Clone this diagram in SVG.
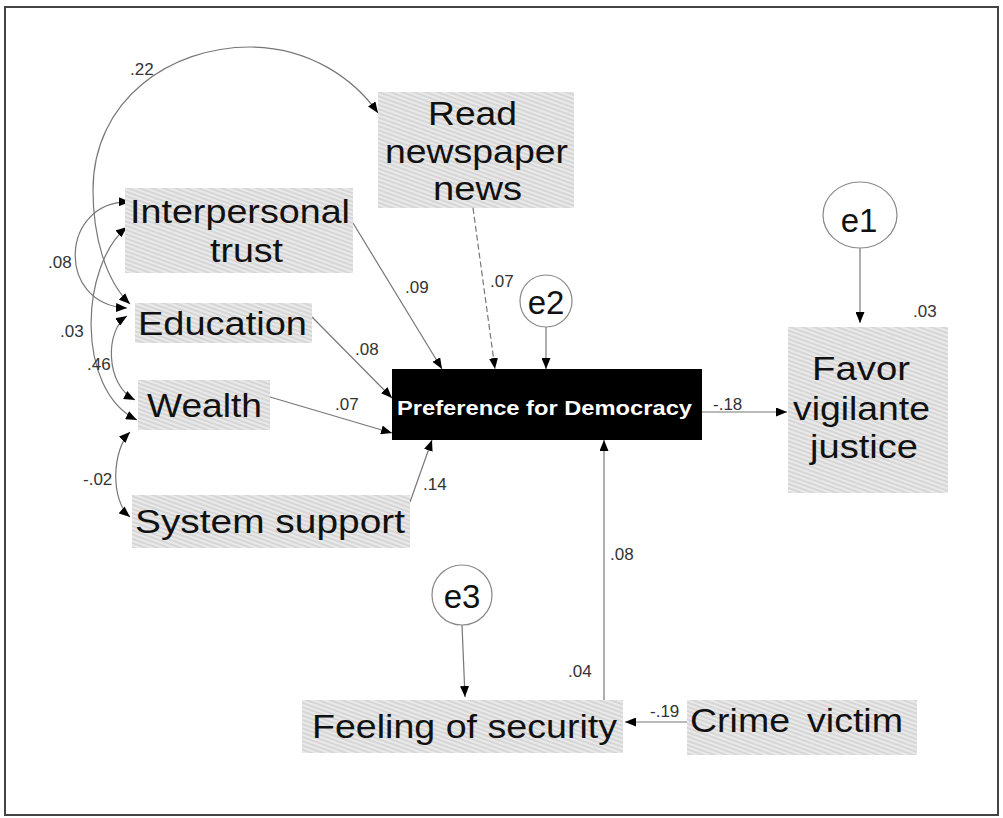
<svg xmlns="http://www.w3.org/2000/svg" width="1003" height="818" viewBox="0 0 1003 818">
<style>
.box{fill:url(#hatch);stroke:none}
.lbl{font-family:"Liberation Sans",Arial,sans-serif;font-size:33px;fill:#111}
.num{font-family:"Liberation Sans",Arial,sans-serif;font-size:17px;fill:#333}
.err{fill:#fff;stroke:#888;stroke-width:1.2}
.con{fill:none;stroke:#777;stroke-width:1.2}
.arr{marker-end:url(#ah)}
.both{marker-start:url(#ah);marker-end:url(#ah)}
</style>
<defs>
<pattern id="hatch" patternUnits="userSpaceOnUse" width="4" height="4" patternTransform="rotate(20)">
<rect width="4" height="4" fill="#e9e9e9"/>
<line x1="0" y1="1" x2="4" y2="1" stroke="#d0d0d0" stroke-width="1.5"/>
</pattern>
<marker id="ah" markerUnits="userSpaceOnUse" markerWidth="11" markerHeight="9" refX="11" refY="4.5" orient="auto-start-reverse">
<path d="M0,0 L11,4.5 L0,9 z" fill="#000"/>
</marker>
</defs>
<rect x="0" y="0" width="1003" height="818" fill="#fff"/>
<rect x="5" y="7" width="993" height="808" fill="#fff" stroke="#444" stroke-width="2"/>

<g id="connectors">
<path class="con both" d="M130,304 C105,280 93,235 93,190 C93,100 170,47 250,47 C310,47 355,80 378,113"/>
<path class="con both" d="M130,202 C60,200 55,305 127,308"/>
<path class="con both" d="M127,227 C80,265 75,390 137,420"/>
<path class="con both" d="M127,316 C105,330 105,385 135,400"/>
<path class="con both" d="M130,432 C112,450 110,500 130,517"/>
<line class="con arr" x1="353" y1="223" x2="442" y2="369"/>
<line class="con arr" x1="473" y1="208" x2="495" y2="369" stroke-dasharray="6,3"/>
<line class="con arr" x1="546" y1="327" x2="546" y2="369"/>
<line class="con arr" x1="312" y1="317" x2="392" y2="398"/>
<line class="con arr" x1="270" y1="397" x2="392" y2="433"/>
<line class="con arr" x1="410" y1="502" x2="432" y2="440"/>
<line class="con arr" x1="702" y1="412" x2="787" y2="412"/>
<line class="con arr" x1="860" y1="248" x2="860" y2="323"/>
<line class="con arr" x1="687" y1="722" x2="625" y2="722"/>
<line class="con arr" x1="604" y1="700" x2="604" y2="440"/>
<line class="con arr" x1="462" y1="625" x2="465" y2="697"/>
<text class="num" x="130" y="75">.22</text>
<text class="num" x="48" y="268">.08</text>
<text class="num" x="60" y="337">.03</text>
<text class="num" x="87" y="370">.46</text>
<text class="num" x="83" y="485">-.02</text>
<text class="num" x="405" y="293">.09</text>
<text class="num" x="490" y="287">.07</text>
<text class="num" x="355" y="355">.08</text>
<text class="num" x="335" y="410">.07</text>
<text class="num" x="423" y="490">.14</text>
<text class="num" x="713" y="410">-.18</text>
<text class="num" x="610" y="560">.08</text>
<text class="num" x="568" y="677">.04</text>
<text class="num" x="650" y="717">-.19</text>
</g>

<g id="read">
<rect class="box" x="378" y="92" width="196" height="116"/>
<text class="lbl" x="428" y="125" textLength="89" lengthAdjust="spacingAndGlyphs">Read</text>
<text class="lbl" x="385" y="163" textLength="183" lengthAdjust="spacingAndGlyphs">newspaper</text>
<text class="lbl" x="433" y="200" textLength="89" lengthAdjust="spacingAndGlyphs">news</text>
</g>
<g id="interpersonal">
<rect class="box" x="125" y="188" width="228" height="85"/>
<text class="lbl" x="130" y="223" textLength="220" lengthAdjust="spacingAndGlyphs">Interpersonal</text>
<text class="lbl" x="210" y="262" textLength="73" lengthAdjust="spacingAndGlyphs">trust</text>
</g>
<g id="education">
<rect class="box" x="135" y="303" width="177" height="40"/>
<text class="lbl" x="138" y="335" textLength="169" lengthAdjust="spacingAndGlyphs">Education</text>
</g>
<g id="wealth">
<rect class="box" x="138" y="380" width="132" height="50"/>
<text class="lbl" x="147" y="417" textLength="115" lengthAdjust="spacingAndGlyphs">Wealth</text>
</g>
<g id="system">
<rect class="box" x="132" y="495" width="278" height="53"/>
<text class="lbl" x="135" y="533" textLength="270" lengthAdjust="spacingAndGlyphs">System support</text>
</g>
<g id="preference">
<rect x="392" y="369" width="310" height="71" fill="#000"/>
<text x="397" y="415" textLength="295" lengthAdjust="spacingAndGlyphs" font-family="Liberation Sans, Arial, sans-serif" font-size="21" font-weight="bold" fill="#fff">Preference for Democracy</text>
</g>
<g id="e2">
<circle class="err" cx="546" cy="301" r="26"/>
<text class="lbl" x="546" y="314" text-anchor="middle" font-size="35">e2</text>
</g>
<g id="e1">
<ellipse class="err" cx="860" cy="215" rx="37" ry="33"/>
<text class="lbl" x="859" y="232" text-anchor="middle" font-size="35">e1</text>
</g>
<g id="favor">
<rect class="box" x="788" y="327" width="160" height="166"/>
<text class="num" x="913" y="317">.03</text>
<text class="lbl" x="812" y="380" textLength="98" lengthAdjust="spacingAndGlyphs">Favor</text>
<text class="lbl" x="793" y="420" textLength="137" lengthAdjust="spacingAndGlyphs">vigilante</text>
<text class="lbl" x="810" y="458" textLength="108" lengthAdjust="spacingAndGlyphs">justice</text>
</g>
<g id="e3">
<circle class="err" cx="462" cy="595" r="30"/>
<text class="lbl" x="462" y="608" text-anchor="middle" font-size="35">e3</text>
</g>
<g id="feeling">
<rect class="box" x="302" y="700" width="321" height="53"/>
<text class="lbl" x="312" y="738" textLength="305" lengthAdjust="spacingAndGlyphs">Feeling of security</text>
</g>
<g id="crime">
<rect class="box" x="687" y="700" width="230" height="55"/>
<text class="lbl" y="732"><tspan x="690" textLength="100" lengthAdjust="spacingAndGlyphs">Crime</tspan><tspan x="807" textLength="96" lengthAdjust="spacingAndGlyphs">victim</tspan></text>
</g>
</svg>
